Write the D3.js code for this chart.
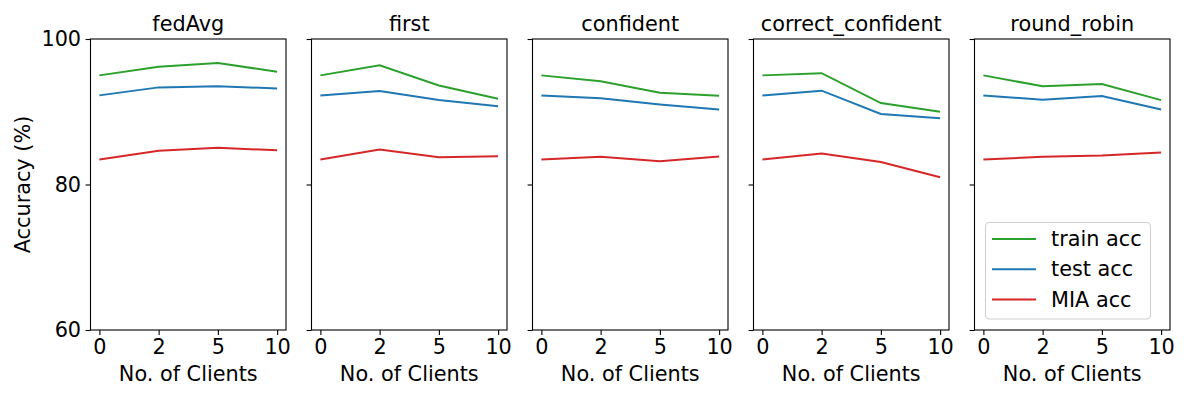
<!DOCTYPE html>
<html>
<head>
<meta charset="utf-8">
<style>
    body { margin: 0; background: white; font-family: "DejaVu Sans", sans-serif; }
    svg { display: block; }
    .axis text { font-family: "DejaVu Sans", sans-serif; font-size: 20.8px; fill: black; }
    .axis path { display: none; }
    .axis line { stroke: black; stroke-width: 1.1; }
</style>
<script src="https://cdn.jsdelivr.net/npm/d3@7"></script>
</head>
<body>
<svg id="chart"></svg>
<script>
// values
let methods = ["fedAvg", "first", "confident", "correct_confident", "round_robin"]
let clients = ["0", "2", "5", "10"]
let yTicks = [60, 80, 100]

let trainAcc = [
    [95.0, 96.2, 96.7, 95.5],
    [95.0, 96.4, 93.6, 91.8],
    [95.0, 94.2, 92.6, 92.2],
    [95.0, 95.3, 91.2, 90.0],
    [95.0, 93.5, 93.8, 91.6]
]
let testAcc = [
    [92.25, 93.35, 93.5, 93.2],
    [92.25, 92.85, 91.6, 90.75],
    [92.25, 91.85, 91.0, 90.3],
    [92.25, 92.9, 89.7, 89.1],
    [92.25, 91.65, 92.15, 90.3]
]
let miaAcc = [
    [83.45, 84.65, 85.05, 84.7],
    [83.45, 84.8, 83.75, 83.9],
    [83.45, 83.8, 83.2, 83.85],
    [83.45, 84.25, 83.1, 81.0],
    [83.45, 83.8, 84.0, 84.4]
]
let seriesNames = ["train acc", "test acc", "MIA acc"]
let seriesColors = ["#2ca02c", "#1f77b4", "#d62728"]

let width = 1200, height = 400
let fs = 20.8
let svg = d3.select("#chart").attr("width", width).attr("height", height)

let panelW = 195.5
let panelLeft = 90.5
let panelGap = 221
let plotTop = 39, plotBottom = 330

let yScale = d3.scaleLinear().domain([60, 100]).range([plotBottom, plotTop])

methods.forEach((m, i) => {
    let x0 = panelLeft + i * panelGap
    let g = svg.append("g").attr("transform", `translate(${x0},0)`)

    let xScale = d3.scalePoint().domain(clients).range([0, panelW]).padding(0.15)

    let allSeries = [trainAcc[i], testAcc[i], miaAcc[i]]
    let line = d3.line()
        .x((d, j) => xScale(clients[j]))
        .y(d => yScale(d))

    allSeries.forEach((s, k) => {
        g.append("path")
            .datum(s)
            .attr("d", line)
            .attr("fill", "none")
            .attr("stroke", seriesColors[k])
            .attr("stroke-width", 2)
    })

    let axisX = d3.axisBottom(xScale).tickSize(4.9).tickPadding(4.5).tickSizeOuter(0)
    g.append("g").attr("class", "axis")
        .attr("transform", `translate(0,${plotBottom})`)
        .call(axisX)

    let axisY = d3.axisLeft(yScale).tickValues(yTicks).tickSize(4.9).tickPadding(4.5).tickSizeOuter(0)
    if (i > 0) axisY.tickFormat("")
    g.append("g").attr("class", "axis").call(axisY)

    g.append("rect")
        .attr("x", 0).attr("y", plotTop)
        .attr("width", panelW).attr("height", plotBottom - plotTop)
        .attr("fill", "none")
        .attr("stroke", "black")
        .attr("stroke-width", 1.1)

    g.append("text")
        .attr("x", panelW / 2).attr("y", plotTop - 8.5)
        .attr("text-anchor", "middle")
        .attr("font-size", fs)
        .text(m)

    g.append("text")
        .attr("x", panelW / 2).attr("y", 381)
        .attr("text-anchor", "middle")
        .attr("font-size", fs)
        .text("No. of Clients")
})

svg.append("text")
    .attr("transform", `translate(30,${(plotTop + plotBottom) / 2}) rotate(-90)`)
    .attr("text-anchor", "middle")
    .attr("font-size", fs)
    .text("Accuracy (%)")

// legend in last panel
let lg = svg.append("g")
lg.append("rect")
    .attr("x", 985.5).attr("y", 222.5)
    .attr("width", 165).attr("height", 96.5)
    .attr("rx", 4)
    .attr("fill", "white")
    .attr("stroke", "#d0d0d0")
    .attr("stroke-width", 1.1)

seriesNames.forEach((name, k) => {
    let yy = 239 + k * 30.2
    lg.append("line")
        .attr("x1", 992).attr("x2", 1036)
        .attr("y1", yy).attr("y2", yy)
        .attr("stroke", seriesColors[k])
        .attr("stroke-width", 2)
    lg.append("text")
        .attr("x", 1051).attr("y", yy)
        .attr("dy", "0.35em")
        .attr("font-size", fs)
        .text(name)
})
</script>
</body>
</html>
